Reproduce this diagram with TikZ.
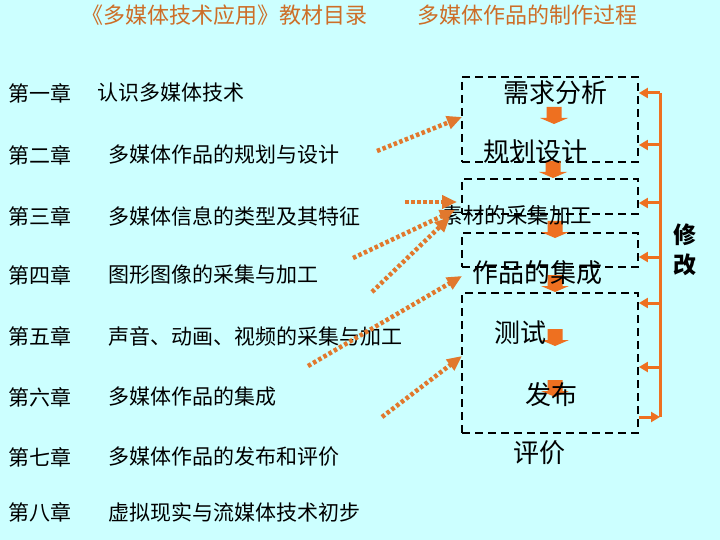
\documentclass[tikz,border=0pt]{standalone}
\usepackage{fontspec}
\setmainfont{Noto Sans CJK SC}
\usetikzlibrary{arrows.meta}
\definecolor{bg}{RGB}{204,255,255}
\definecolor{ttl}{RGB}{205,110,40}
\definecolor{orn}{RGB}{238,112,32}
\definecolor{dotc}{RGB}{225,120,45}
\begin{document}
\begin{tikzpicture}[x=1pt,y=-1pt,
 txt/.style={inner sep=0pt, anchor=west, font=\fontsize{21}{21}\selectfont},
 big/.style={inner sep=0pt, font=\fontsize{26}{26}\selectfont},
 mid/.style={inner sep=0pt, font=\fontsize{21.5}{21.5}\selectfont},
 ttlstyle/.style={inner sep=0pt, text=ttl, font=\fontsize{22}{22}\selectfont},
 side/.style={inner sep=0pt, font=\bfseries\fontsize{23}{23}\selectfont},
 box/.style={draw, dash pattern=on 8pt off 5pt, line width=1.8pt, inner sep=0pt},
 dotarrow/.style={dotc, line width=4.5pt, dash pattern=on 3.5pt off 2.5pt, -{Triangle[length=15pt,width=13pt]}},
 fb/.style={orn, line width=3pt, -{Triangle[length=9pt,width=10pt]}},
 blk/.pic={\fill[orn] (-7.5,0) -- (7.5,0) -- (7.5,11) -- (14,11) -- (0,17) -- (-14,11) -- (-7.5,11) -- cycle;}
]
\fill[bg] (0,0) rectangle (720,540);
\useasboundingbox (0,0) rectangle (720,540);

% titles
\node[ttlstyle] (t1) at (224,15) {《多媒体技术应用》教材目录};
\node[ttlstyle] (t2) at (527,15) {多媒体作品的制作过程};

% chapter list
\node[txt] (c1) at (8,93) {第一章};
\node[txt] (c2) at (8,155) {第二章};
\node[txt] (c3) at (8,216) {第三章};
\node[txt] (c4) at (8,275) {第四章};
\node[txt] (c5) at (8,336) {第五章};
\node[txt] (c6) at (8,397) {第六章};
\node[txt] (c7) at (8,457) {第七章};
\node[txt] (c8) at (8,512) {第八章};
\node[txt] (d1) at (97,93) {认识多媒体技术};
\node[txt] (d2) at (108,155) {多媒体作品的规划与设计};
\node[txt] (d3) at (108,216) {多媒体信息的类型及其特征};
\node[txt] (d4) at (108,275) {图形图像的采集与加工};
\node[txt] (d5) at (108,336) {声音、动画、视频的采集与加工};
\node[txt] (d6) at (108,397) {多媒体作品的集成};
\node[txt] (d7) at (108,457) {多媒体作品的发布和评价};
\node[txt] (d8) at (108,512) {虚拟现实与流媒体技术初步};

% dashed boxes
\node[box, minimum width=176pt, minimum height=85pt] (b1) at (550,119.5) {};
\node[box, minimum width=176pt, minimum height=35pt] (b2) at (550,196.5) {};
\node[box, minimum width=176pt, minimum height=34pt] (b3) at (550,250) {};
\node[box, minimum width=176pt, minimum height=140pt] (b4) at (550,363) {};

% block arrows
\pic at (554,107) {blk};
\pic at (553,161) {blk};
\pic at (555,221) {blk};
\pic at (555,275) {blk};
\pic at (555,329) {blk};
\pic at (555,380) {blk};

% process texts
\node[big] (p1) at (555,93) {需求分析};
\node[big] (p2) at (535,152) {规划设计};
\node[mid] (p3) at (517,215) {素材的采集加工};
\node[big] (p4) at (537,273) {作品的集成};
\node[big] (p5) at (520,333) {测试};
\node[big] (p6) at (551,395) {发布};
\node[big] (p7) at (539,453) {评价};

% feedback
\node[side] (m1) at (685,235) {修};
\node[side] (m2) at (685,265) {改};
\coordinate (ft) at (660,93);
\coordinate (fbm) at (660,417);
\draw[orn, line width=3pt] (ft) -- (fbm);
\coordinate (f2) at (660,145);
\coordinate (f3) at (660,203);
\coordinate (f4) at (660,257);
\coordinate (f5) at (660,303);
\coordinate (f6) at (660,367);
\draw[fb] (ft) -- (ft -| b1.east);
\draw[fb] (f2) -- (f2 -| b1.east);
\draw[fb] (f3) -- (f3 -| b1.east);
\draw[fb] (f4) -- (f4 -| b1.east);
\draw[fb] (f5) -- (f5 -| b1.east);
\draw[fb] (f6) -- (f6 -| b1.east);
\draw[fb] (fbm -| b4.east) -- (fbm);

% dotted arrows from chapters
\coordinate (s1) at (377,151);  \coordinate (e1) at (462,117);
\coordinate (s2) at (405,202);  \coordinate (e2) at (457,202);
\coordinate (s3) at (353,258);  \coordinate (e3) at (455,210);
\coordinate (s4) at (372,292);  \coordinate (e4) at (450,217);
\coordinate (s5) at (308,366);  \coordinate (e5) at (462,276);
\coordinate (s6) at (382,417);  \coordinate (e6) at (462,356);
\draw[dotarrow] (s1) -- (e1);
\draw[dotarrow] (s2) -- (e2);
\draw[dotarrow] (s3) -- (e3);
\draw[dotarrow] (s4) -- (e4);
\draw[dotarrow] (s5) -- (e5);
\draw[dotarrow] (s6) -- (e6);
\end{tikzpicture}
\end{document}
